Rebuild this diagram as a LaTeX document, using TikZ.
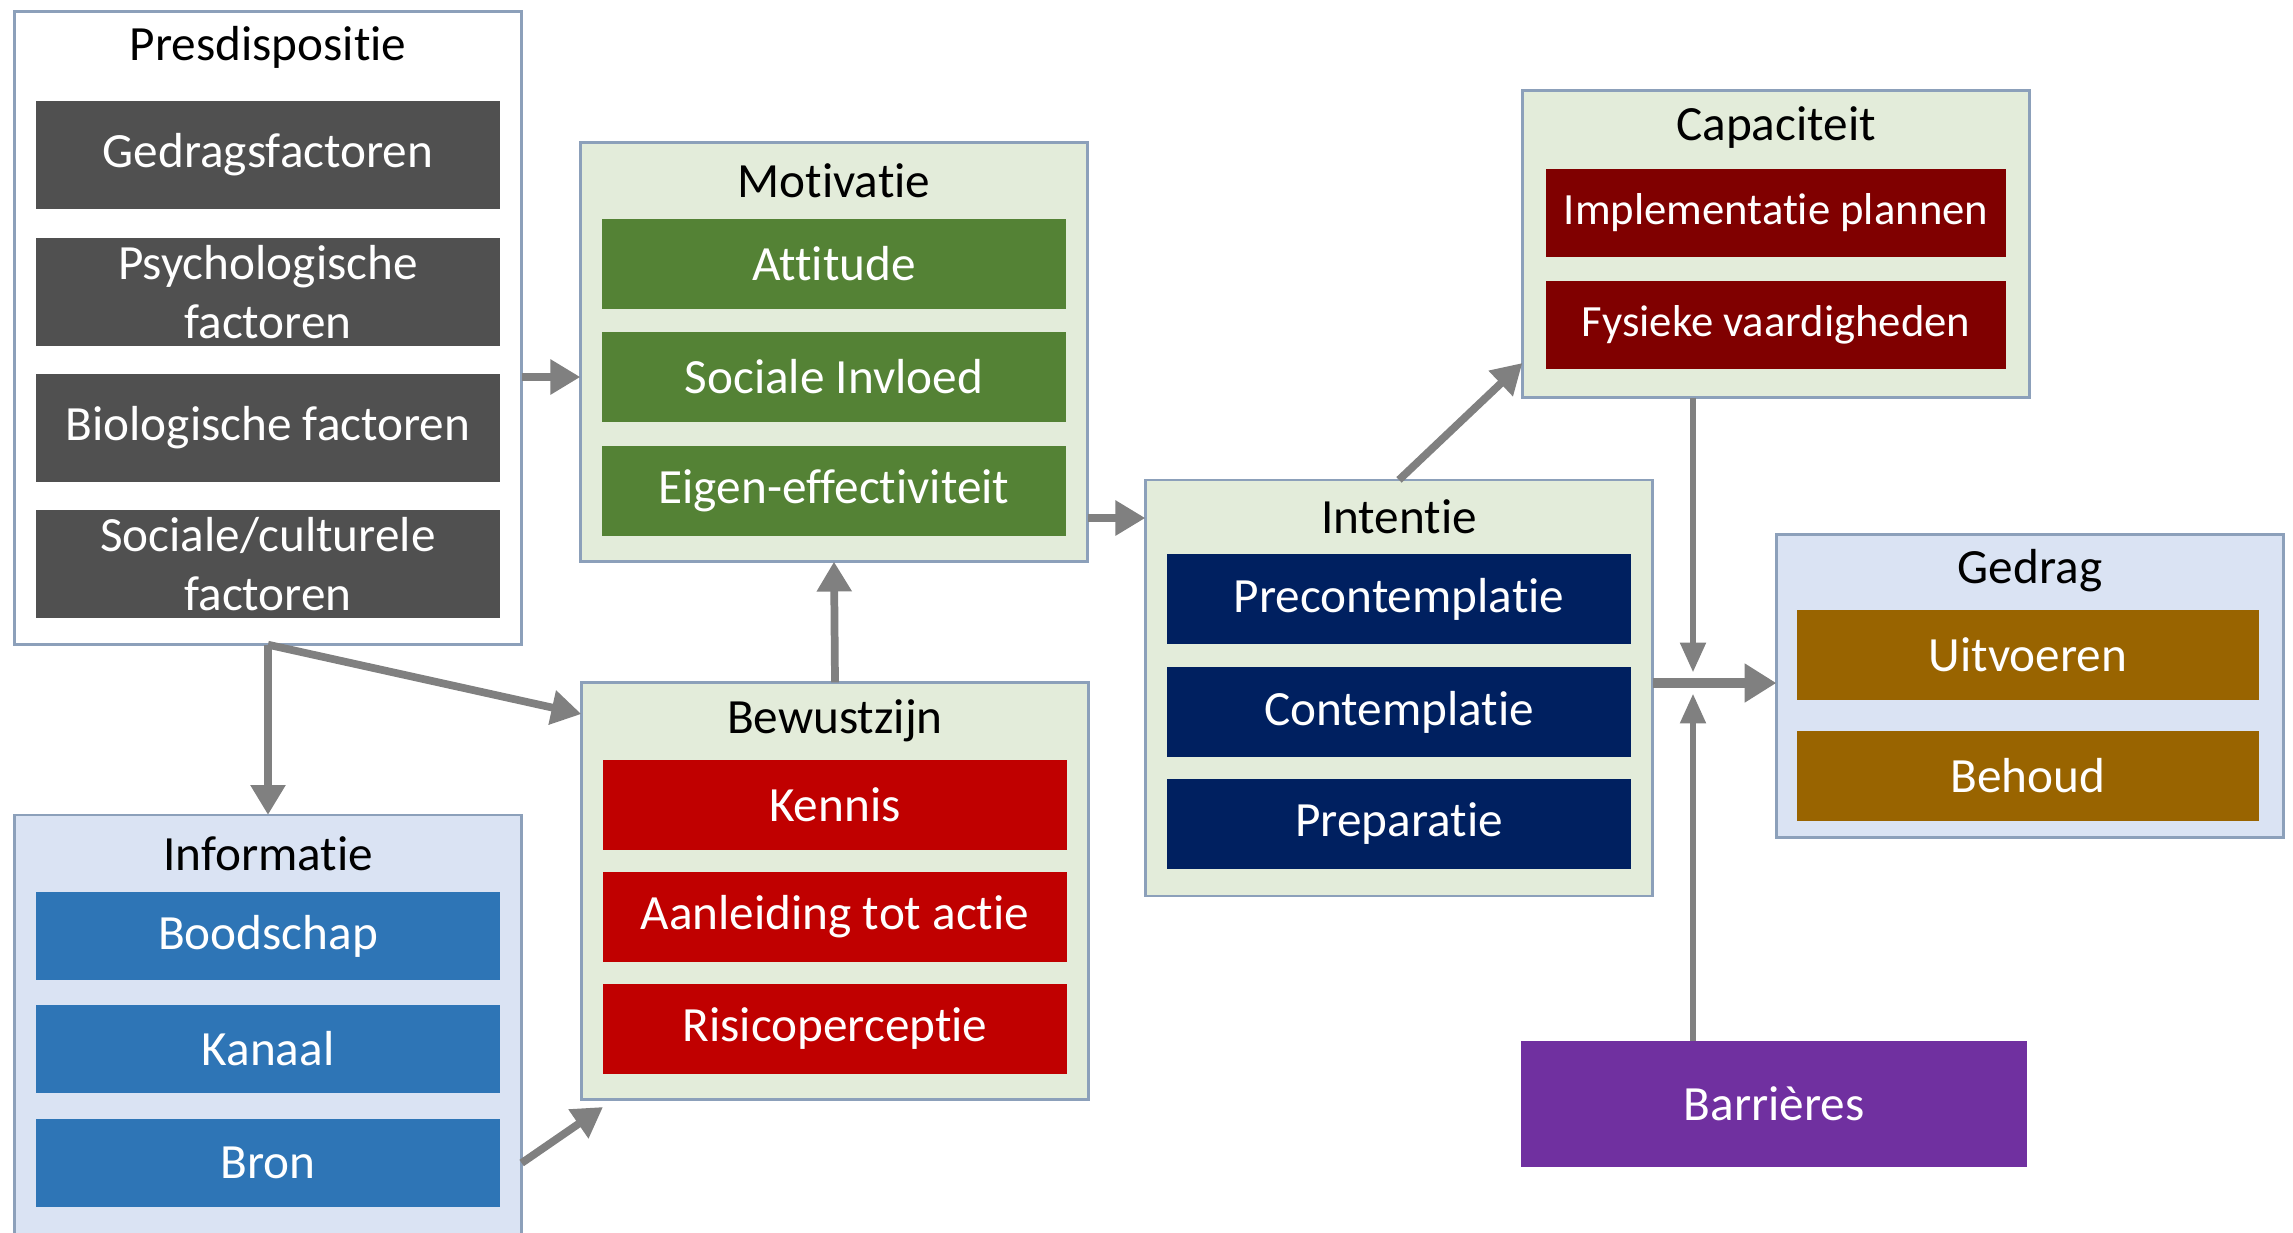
\documentclass[tikz,border=0pt]{standalone}
\usepackage{fontspec}
\setmainfont[Ligatures=NoCommon]{Carlito}
\usetikzlibrary{arrows.meta}
\definecolor{rand}{RGB}{140,160,186}
\definecolor{lgroen}{RGB}{227,236,218}
\definecolor{lblauw}{RGB}{218,227,243}
\definecolor{grijs}{RGB}{80,80,80}
\definecolor{groen}{RGB}{84,130,53}
\definecolor{rood}{RGB}{192,0,0}
\definecolor{blauw}{RGB}{46,117,182}
\definecolor{marine}{RGB}{0,32,96}
\definecolor{donkerrood}{RGB}{128,0,0}
\definecolor{goud}{RGB}{153,100,0}
\definecolor{paars}{RGB}{112,48,160}
\definecolor{lijn}{RGB}{128,128,128}

\begin{document}
\begin{tikzpicture}[x=0.01cm, y=-0.01cm,
    kader/.style={draw=rand, line width=0.7pt, inner sep=0pt, outer sep=0pt, minimum width=5.07cm},
    blok/.style={inner sep=0pt, outer sep=0pt, text=white, align=center, minimum width=4.63cm, minimum height=0.9cm, font=\fontsize{14}{16.6}\selectfont},
    kop/.style={font=\fontsize{14}{16}\selectfont},
    pijl/.style={draw=lijn, line width=2.2pt, -{Triangle[length=8.5pt,width=9.5pt]}}]
      \useasboundingbox (0,0) rectangle (2293,1232);
      % kaders
      \node[kader, fill=white, minimum height=6.33cm] (pre) at (268,328) {};
      \node[kader, fill=lgroen, minimum height=4.19cm] (mot) at (834,352) {};
      \node[kader, fill=lgroen, minimum height=4.17cm] (bew) at (835,891) {};
      \node[kader, fill=lblauw, minimum height=4.40cm] (inf) at (268,1035) {};
      \node[kader, fill=lgroen, minimum height=4.16cm] (int) at (1399,688) {};
      \node[kader, fill=lgroen, minimum height=3.07cm] (cap) at (1776,244) {};
      \node[kader, fill=lblauw, minimum height=3.03cm] (ged) at (2030,686) {};
      % koppen
      \node[kop] (tpre) at (268,47) {Presdispositie};
      \node[kop] (tmot) at (834,181) {Motivatie};
      \node[kop] (tbew) at (835,721) {Bewustzijn};
      \node[kop] (tinf) at (268,854) {Informatie};
      \node[kop] (tint) at (1399,517) {Intentie};
      \node[kop] (tcap) at (1776,128) {Capaciteit};
      \node[kop] (tged) at (2030,571) {Gedrag};
      % presdispositie
      \node[blok, fill=grijs, minimum height=1.08cm] (gedr) at (268,155) {Gedragsfactoren};
      \node[blok, fill=grijs, minimum height=1.08cm] (psy) at (268,292) {Psychologische\\factoren};
      \node[blok, fill=grijs, minimum height=1.08cm] (bio) at (268,428) {Biologische factoren};
      \node[blok, fill=grijs, minimum height=1.08cm] (soc) at (268,564) {Sociale/culturele\\factoren};
      % motivatie
      \node[blok, fill=groen] (att) at (834,264) {Attitude};
      \node[blok, fill=groen] (inv) at (834,377) {Sociale Invloed};
      \node[blok, fill=groen] (eig) at (834,491) {Eigen-effectiviteit};
      % bewustzijn
      \node[blok, fill=rood] (ken) at (835,805) {Kennis};
      \node[blok, fill=rood] (aan) at (835,917) {Aanleiding tot actie};
      \node[blok, fill=rood] (ris) at (835,1029) {Risicoperceptie};
      % informatie
      \node[blok, fill=blauw, minimum height=0.88cm] (boo) at (268,936) {Boodschap};
      \node[blok, fill=blauw, minimum height=0.88cm] (kan) at (268,1049) {Kanaal};
      \node[blok, fill=blauw, minimum height=0.88cm] (bron) at (268,1163) {Bron};
      % intentie
      \node[blok, fill=marine] (pco) at (1399,599) {Precontemplatie};
      \node[blok, fill=marine] (con) at (1399,712) {Contemplatie};
      \node[blok, fill=marine] (prep) at (1399,824) {Preparatie};
      % capaciteit
      \node[blok, fill=donkerrood, minimum width=4.6cm, minimum height=0.87cm, font=\fontsize{12.7}{15}\selectfont] (imp) at (1776,213) {Implementatie plannen};
      \node[blok, fill=donkerrood, minimum width=4.6cm, minimum height=0.87cm, font=\fontsize{12.7}{15}\selectfont] (fys) at (1776,325) {Fysieke vaardigheden};
      % gedrag
      \node[blok, fill=goud, minimum width=4.62cm] (uit) at (2028,655) {Uitvoeren};
      \node[blok, fill=goud, minimum width=4.62cm] (beh) at (2028,776) {Behoud};
      % barrieres
      \node[blok, fill=paars, minimum width=5.06cm, minimum height=1.26cm] (bar) at (1774,1104) {Barrières};
      % pijlen
      \coordinate (kr) at (1693,683);
      \coordinate (bt) at (603,1107);
      \draw[pijl] (pre.east |- 0,377) -- (mot.west |- 0,377);
      \draw[pijl] (pre.south) -- (inf.north);
      \draw[pijl] (pre.south) -- (bew.west |- 0,714);
      \draw[pijl] (inf.east |- bron) -- (bt);
      \draw[pijl] (bew.north) -- (mot.south);
      \draw[pijl] (mot.east |- 0,518) -- (int.west |- 0,518);
      \draw[pijl] (int.north) -- (cap.west |- 0,363);
      \draw[pijl, line width=1.8pt, -{Triangle[length=8.5pt,width=7pt]}, shorten >=3pt] (kr |- cap.south) -- (kr);
      \draw[pijl, line width=1.8pt, -{Triangle[length=8.5pt,width=7pt]}, shorten >=3pt] (kr |- bar.north) -- (kr);
      \draw[pijl, line width=2.6pt, -{Triangle[length=9pt,width=10.5pt]}] (int.east |- kr) -- (ged.west |- kr);
\end{tikzpicture}
\end{document}
